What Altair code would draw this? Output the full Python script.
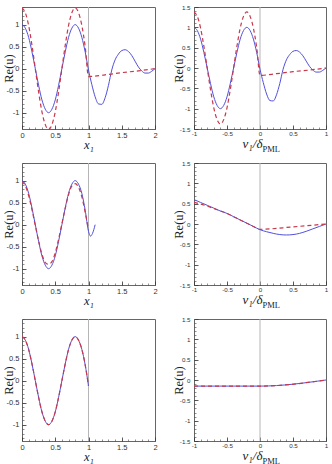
import altair as alt
import pandas as pd

# ---------------- data ----------------
# Row 1 (full domain, PML region x in [1,2])
x_r1 = [0.0, 0.05, 0.1, 0.15, 0.2, 0.25, 0.3, 0.35, 0.4, 0.45, 0.5, 0.55, 0.6, 0.65, 0.7,
        0.75, 0.8, 0.85, 0.9, 0.95, 1.0, 1.05, 1.1, 1.15, 1.2, 1.25, 1.3, 1.35, 1.4, 1.45,
        1.5, 1.55, 1.6, 1.65, 1.7, 1.75, 1.8, 1.85, 1.9, 1.95, 2.0]
blue_r1 = [1.0, 0.92, 0.71, 0.38, 0.0, -0.38, -0.71, -0.92, -1.0, -0.92, -0.71, -0.38, 0.0,
           0.38, 0.71, 0.92, 1.0, 0.92, 0.71, 0.38, -0.03, -0.36, -0.64, -0.8, -0.81, -0.66,
           -0.38, -0.03, 0.2, 0.33, 0.41, 0.43, 0.39, 0.3, 0.17, 0.04, -0.05, -0.1, -0.1,
           -0.06, 0.0]
xr_r1 = [0.0, 0.05, 0.1, 0.15, 0.2, 0.25, 0.3, 0.35, 0.4, 0.45, 0.5, 0.55, 0.6, 0.65, 0.7,
         0.75, 0.8, 0.85, 0.9, 0.95, 1.0, 1.25, 1.5, 1.75, 2.0]
red_r1 = [1.38, 1.27, 0.98, 0.53, 0.0, -0.53, -0.98, -1.27, -1.38, -1.27, -0.98, -0.53, 0.0,
          0.53, 0.98, 1.27, 1.38, 1.27, 0.98, 0.5, -0.18, -0.14, -0.09, -0.05, 0.0]

# Row 2
x_r2b = [0.0, 0.05, 0.1, 0.15, 0.2, 0.25, 0.3, 0.35, 0.4, 0.45, 0.5, 0.55, 0.6, 0.65, 0.7,
         0.75, 0.8, 0.85, 0.9, 0.95, 1.0, 1.03, 1.06, 1.1]
blue_r2 = [1.0, 0.92, 0.71, 0.38, 0.0, -0.38, -0.71, -0.92, -1.0, -0.92, -0.71, -0.38, 0.0,
           0.38, 0.71, 0.92, 1.0, 0.92, 0.71, 0.33, -0.15, -0.26, -0.2, 0.0]
x_r2r = [0.0, 0.05, 0.1, 0.15, 0.2, 0.25, 0.3, 0.35, 0.4, 0.45, 0.5, 0.55, 0.6, 0.65, 0.7,
         0.75, 0.8, 0.85, 0.9, 0.95, 1.0]
red_r2 = [0.98, 0.88, 0.66, 0.34, -0.02, -0.37, -0.67, -0.86, -0.9, -0.84, -0.64, -0.33, 0.02,
          0.37, 0.68, 0.88, 0.93, 0.85, 0.63, 0.28, -0.12]
nu_r2b = [-1.0, -0.9, -0.8, -0.7, -0.6, -0.5, -0.4, -0.3, -0.2, -0.1, 0.0, 0.1, 0.2, 0.3, 0.4,
          0.5, 0.6, 0.7, 0.8, 0.9, 1.0]
pml_blue_r2 = [0.6, 0.53, 0.46, 0.39, 0.32, 0.26, 0.18, 0.1, 0.02, -0.06, -0.14, -0.19, -0.23,
               -0.26, -0.27, -0.26, -0.23, -0.18, -0.12, -0.06, 0.0]
nu_r2r = [-1.0, -0.9, -0.8, -0.7, -0.6, -0.5, -0.4, -0.3, -0.2, -0.1, 0.0, 0.5, 1.0]
pml_red_r2 = [0.53, 0.49, 0.44, 0.38, 0.32, 0.26, 0.18, 0.1, 0.02, -0.06, -0.13, -0.07, 0.0]

# Row 3
x_r3 = [0.0, 0.05, 0.1, 0.15, 0.2, 0.25, 0.3, 0.35, 0.4, 0.45, 0.5, 0.55, 0.6, 0.65, 0.7,
        0.75, 0.8, 0.85, 0.9, 0.95, 1.0]
blue_r3 = [1.0, 0.92, 0.71, 0.38, 0.0, -0.38, -0.71, -0.92, -1.0, -0.92, -0.71, -0.38, 0.0,
           0.38, 0.71, 0.92, 1.0, 0.92, 0.71, 0.36, -0.12]
red_r3 = [1.0, 0.92, 0.71, 0.38, 0.0, -0.38, -0.71, -0.92, -1.0, -0.92, -0.71, -0.38, 0.0,
          0.38, 0.71, 0.92, 1.0, 0.92, 0.71, 0.36, -0.12]
nu_r3 = [-1.0, 0.0, 1.0]
pml_blue_r3 = [-0.15, -0.15, 0.0]
pml_red_r3 = [-0.15, -0.15, 0.0]

# tick labels
left_x_major = [0, 0.5, 1, 1.5, 2]
left_y_major = [-1, -0.5, 0, 0.5, 1]
right_x_major = [-1, -0.5, 0, 0.5, 1]
right_y_major = [-1.5, -1, -0.5, 0, 0.5, 1, 1.5]
left_x_minor = [round(0.1 * i, 1) for i in range(0, 21)]
left_y_minor = [round(-1.3 + 0.1 * i, 1) for i in range(0, 28)]
right_x_minor = [round(-1 + 0.1 * i, 1) for i in range(0, 21)]
right_y_minor = [round(-1.5 + 0.1 * i, 1) for i in range(0, 31)]

BLUE = "#5050dc"
RED = "#c8374a"
W_L, W_R, H = 133, 132, 122


def panel(xb, yb, xr, yr, vline, right):
    W = W_R if right else W_L
    xdom = [-1, 1] if right else [0, 2]
    ydom = [-1.5, 1.5] if right else [-1.37, 1.4]
    xmaj = right_x_major if right else left_x_major
    ymaj = right_y_major if right else left_y_major
    xmin = right_x_minor if right else left_x_minor
    ymin = right_y_minor if right else left_y_minor
    lab = 6.2 if right else 7.5
    xs = alt.Scale(domain=xdom, nice=False, zero=False)
    ys = alt.Scale(domain=ydom, nice=False, zero=False)
    df_b = pd.DataFrame({"x": xb, "y": yb})
    df_r = pd.DataFrame({"x": xr, "y": yr})
    df_v = pd.DataFrame({"x": [vline]})

    xt = "\u03bd\u2081/\u03b4" if right else "x\u2081"
    x_axis = alt.Axis(values=xmaj, orient="bottom", offset=-4, tickSize=4, tickColor="#333",
                      tickWidth=0.8, domain=False, grid=False, labelExpr="'' + datum.value",
                      labelFont="Liberation Sans", labelFontSize=lab, labelColor="#333",
                      labelPadding=1 if right else 2.5, labelFlush=False,
                      title=xt, titleFont="Liberation Serif", titleFontStyle="italic",
                      titleFontWeight="normal", titleFontSize=(13 if right else 12.5),
                      titleColor="#222",
                      titleX=(68 if right else W / 2), titleY=(22.5 if right else 23.5),
                      titleAlign=("right" if right else "center"), titleBaseline="alphabetic")
    y_axis = alt.Axis(values=ymaj, orient="left", offset=-4, tickSize=4, tickColor="#333",
                      tickWidth=0.8, domain=False, grid=False, labelExpr="'' + datum.value",
                      labelFont="Liberation Sans", labelFontSize=lab, labelColor="#333",
                      labelPadding=4 if right else 3, labelFlush=False,
                      title="Re(u)", titleFont="Liberation Serif", titleFontWeight="normal",
                      titleFontSize=12.5, titleColor="#222", titleAngle=270,
                      titleX=(-19.5 if right else -18), titleY=H / 2,
                      titleAlign="center", titleBaseline="middle")
    x_minor = alt.Axis(values=xmin, orient="bottom", offset=-2, tickSize=2, tickColor="#444",
                       tickWidth=0.6, domain=False, grid=False, labels=False, title=None)
    y_minor = alt.Axis(values=ymin, orient="left", offset=-2, tickSize=2, tickColor="#444",
                       tickWidth=0.6, domain=False, grid=False, labels=False, title=None)

    rule = alt.Chart(df_v).mark_rule(color="#b5b5b5", strokeWidth=1).encode(
        x=alt.X("x:Q", scale=xs, axis=None))
    blue = alt.Chart(df_b).mark_line(color=BLUE, strokeWidth=1, interpolate="monotone",
                                     clip=True).encode(
        x=alt.X("x:Q", scale=xs, axis=x_axis),
        y=alt.Y("y:Q", scale=ys, axis=y_axis))
    red = alt.Chart(df_r).mark_line(color=RED, strokeWidth=1.2, strokeDash=[4, 3],
                                    interpolate="monotone", clip=True).encode(
        x=alt.X("x:Q", scale=xs, axis=x_minor),
        y=alt.Y("y:Q", scale=ys, axis=y_minor))
    layers = [rule, blue, red]
    if right:
        sub = alt.Chart(pd.DataFrame({"t": ["PML"]})).mark_text(
            font="Liberation Serif", fontSize=8.5, color="#222", align="left",
            baseline="alphabetic").encode(
            text="t:N", x=alt.value(68.5), y=alt.value(H + 22.5))
        layers.append(sub)
    return alt.layer(*layers).resolve_axis(x="independent", y="independent").properties(
        width=W, height=H)


p1 = panel(x_r1, blue_r1, xr_r1, red_r1, 1, False)
p2 = panel([round(v - 1, 2) for v in x_r1], blue_r1, [round(v - 1, 2) for v in xr_r1],
           red_r1, 0, True)
p3 = panel(x_r2b, blue_r2, x_r2r, red_r2, 1, False)
p4 = panel(nu_r2b, pml_blue_r2, nu_r2r, pml_red_r2, 0, True)
p5 = panel(x_r3, blue_r3, x_r3, red_r3, 1, False)
p6 = panel(nu_r3, pml_blue_r3, nu_r3, pml_red_r3, 0, True)

chart = alt.concat(p1, p2, p3, p4, p5, p6, columns=2,
                   spacing={"row": 34, "column": 39}, bounds="flush").properties(
    padding={"left": 1, "top": 3, "right": 2, "bottom": 1},
    background="white",
).configure_view(stroke="#666", strokeWidth=1)

chart.save("out.html", embed_options={"renderer": "svg", "actions": False})
